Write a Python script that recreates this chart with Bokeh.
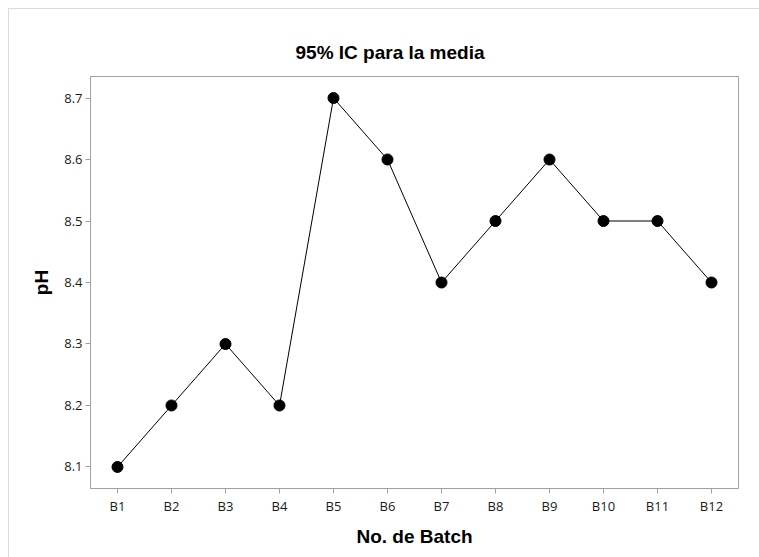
from bokeh.plotting import figure
from bokeh.embed import file_html
from bokeh.resources import INLINE
from bokeh.models import Range1d, FixedTicker

batches = ["B1", "B2", "B3", "B4", "B5", "B6", "B7", "B8", "B9", "B10", "B11", "B12"]
ph_values = [8.1, 8.2, 8.3, 8.2, 8.7, 8.6, 8.4, 8.5, 8.6, 8.5, 8.5, 8.4]
y_ticks = [8.1, 8.2, 8.3, 8.4, 8.5, 8.6, 8.7]

p = figure(x_range=batches, y_range=Range1d(8.065, 8.735),
           width=751, height=549, output_backend="svg", toolbar_location=None,
           min_border_left=81, min_border_right=22, min_border_top=67, min_border_bottom=70)
p.styles = {"margin-left": "8px", "margin-top": "8px",
            "border-left": "1px solid #dcdcdc", "border-top": "1px solid #dcdcdc"}

p.line(batches, ph_values, line_color="black", line_width=1)
p.scatter(batches, ph_values, size=11, fill_color="black", line_color="black")

p.title.text = "95% IC para la media"
p.title.text_font = "Liberation Sans"
p.title.text_font_size = "19px"
p.title.text_font_style = "bold"
p.title.text_color = "black"
p.title.align = "left"
p.title.offset = 205
p.title.standoff = 27

p.outline_line_color = "#a0a0a0"
p.outline_line_width = 1
p.grid.visible = False

for ax in (p.xaxis, p.yaxis):
    ax.axis_line_color = "#a0a0a0"
    ax.major_tick_line_color = "#a0a0a0"
    ax.major_tick_out = 5
    ax.major_tick_in = 0
    ax.minor_tick_line_color = None
    ax.major_label_text_font = "Open Sans"
    ax.major_label_text_font_size = "13px"
    ax.major_label_text_color = "#1a1a1a"
    ax.major_label_standoff = 3
    ax.axis_label_text_font = "Liberation Sans"
    ax.axis_label_text_font_style = "bold"
    ax.axis_label_text_font_size = "19px"
    ax.axis_label_text_color = "black"

p.yaxis.ticker = FixedTicker(ticks=y_ticks)
p.yaxis.axis_label = "pH"
p.yaxis.axis_label_standoff = 9
p.xaxis.axis_label = "No. de Batch"
p.xaxis.axis_label_standoff = 8

open("out.html", "w").write(file_html(p, INLINE))
